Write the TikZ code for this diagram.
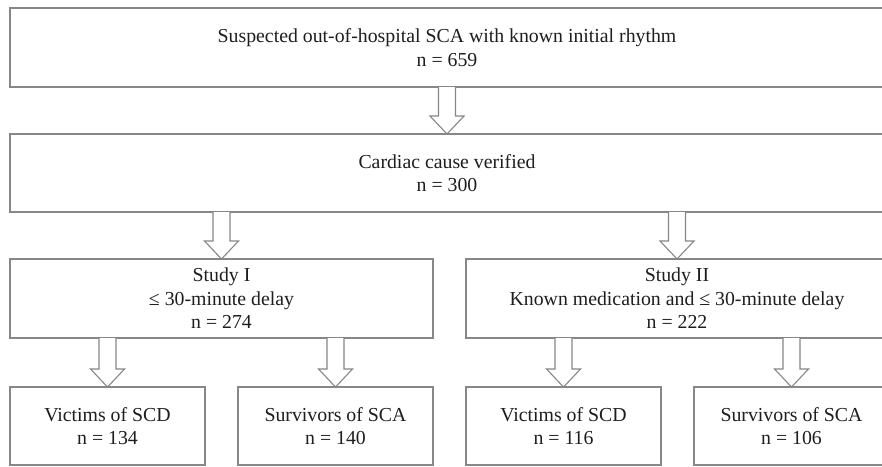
\documentclass[tikz,border=0pt]{standalone}
\usepackage{fontspec}
\setmainfont{Liberation Serif}
\usetikzlibrary{calc}
\definecolor{linegray}{RGB}{135,135,135}
\definecolor{txt}{RGB}{30,30,30}
\tikzset{
  box/.style={draw=linegray, line width=1.1pt, fill=white, inner sep=0pt, outer sep=0pt,
    align=center, text=txt, font=\fontsize{19.8}{23.5}\selectfont},
  blk/.style={draw=linegray, line width=1.1pt, fill=white, line join=miter}
}
\newcommand\blockarrow[2]{%
  \draw[blk] let \p1=(#1.south), \p2=(#2.north) in
    (\x2-8.5pt,\y1) -- (\x2-8.5pt,\y2+18pt) -- (\x2-17pt,\y2+18pt) -- (\x2,\y2)
    -- (\x2+17pt,\y2+18pt) -- (\x2+8.5pt,\y2+18pt) -- (\x2+8.5pt,\y1);}
\begin{document}
\begin{tikzpicture}[x=1pt,y=-1pt]
\useasboundingbox (0,0) rectangle (882,466);
\clip (0,0) rectangle (882,466);
\fill[white] (0,0) rectangle (882,466);
\node[box, minimum width=874pt, minimum height=79pt] (b1) at (447,47.5)
  {Suspected out-of-hospital SCA with known initial rhythm\\ n = 659};
\node[box, minimum width=874pt, minimum height=78pt] (b2) at (447,173)
  {Cardiac cause verified\\ n = 300};
\node[box, minimum width=423pt, minimum height=79pt] (s1) at (221.5,298.5)
  {Study I\\ ≤ 30-minute delay\\ n = 274};
\node[box, minimum width=422pt, minimum height=79pt] (s2) at (677,298.5)
  {Study II\\ Known medication and ≤ 30-minute delay\\ n = 222};
\node[box, minimum width=195pt, minimum height=78pt] (v1) at (107.5,426)
  {Victims of SCD\\ n = 134};
\node[box, minimum width=195pt, minimum height=78pt] (u1) at (335.5,426)
  {Survivors of SCA\\ n = 140};
\node[box, minimum width=195pt, minimum height=78pt] (v2) at (563.5,426)
  {Victims of SCD\\ n = 116};
\node[box, minimum width=195pt, minimum height=78pt] (u2) at (791.5,426)
  {Survivors of SCA\\ n = 106};
\blockarrow{b1}{b2}
\blockarrow{b2}{s1}
\blockarrow{b2}{s2}
\blockarrow{s1}{v1}
\blockarrow{s1}{u1}
\blockarrow{s2}{v2}
\blockarrow{s2}{u2}
\end{tikzpicture}
\end{document}
